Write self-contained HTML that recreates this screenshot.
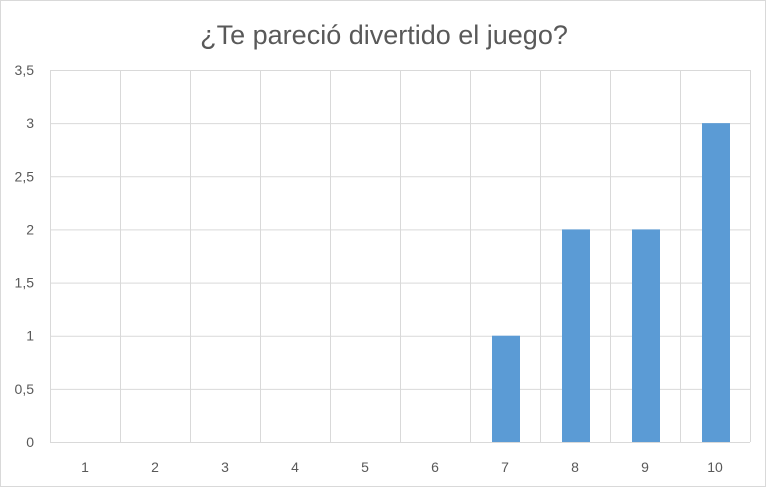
<!DOCTYPE html>
<html><head><meta charset="utf-8">
<style>
body{margin:0;background:#fff;}
svg{display:block;font-family:"Liberation Sans",Calibri,sans-serif;}
</style></head>
<body>
<svg id="chart" width="766" height="487">
<rect x="0.5" y="0.5" width="765" height="486" fill="#fff" stroke="#d9d9d9"/>
<text x="384" y="44" text-anchor="middle" font-size="27" fill="#595959">¿Te pareció divertido el juego?</text>
<g id="grid"></g><g id="bars"></g><g id="labels"></g>
</svg>
<script>
const categories=["1","2","3","4","5","6","7","8","9","10"];
const values=[0,0,0,0,0,0,1,2,2,3];
const yTicks=[0,0.5,1,1.5,2,2.5,3,3.5];
const yTickLabels=["0","0,5","1","1,5","2","2,5","3","3,5"];
const L=50,R=750,T=70,B=442,yMax=3.5;
const ns="http://www.w3.org/2000/svg";
const bw=(R-L)/categories.length;
function y(v){return B-(v/yMax)*(B-T);}
function x(i){return L+bw*i;}
function mk(tag,attrs,parent){const e=document.createElementNS(ns,tag);for(const k in attrs)e.setAttribute(k,attrs[k]);document.getElementById(parent).appendChild(e);return e;}
yTicks.forEach((t,i)=>{
 const g=mk("line",{x1:L,x2:R,y1:y(t)+0.5,y2:y(t)+0.5,stroke:"#d9d9d9"},"grid");
 
 
 const tx=mk("text",{x:34,y:y(t)+5,"text-anchor":"end","font-size":"14",fill:"#595959"},"labels");
 tx.textContent=yTickLabels[i];
 
 
});
for(let i=0;i<=categories.length;i++){
 const g=mk("line",{x1:x(i)+0.5,x2:x(i)+0.5,y1:T,y2:B,stroke:"#d9d9d9"},"grid");
 
 
}
categories.forEach((c,i)=>{
 const cx=x(i)+bw/2;
 if(values[i]>0){
  const r=mk("rect",{x:cx-13,y:y(values[i]),width:28,height:B-y(values[i]),fill:"#5b9bd5"},"bars");
  
  
 }
 const tx=mk("text",{x:cx,y:472,"text-anchor":"middle","font-size":"14",fill:"#595959"},"labels");
 tx.textContent=c;
 
 
});
</script>
</body></html>
